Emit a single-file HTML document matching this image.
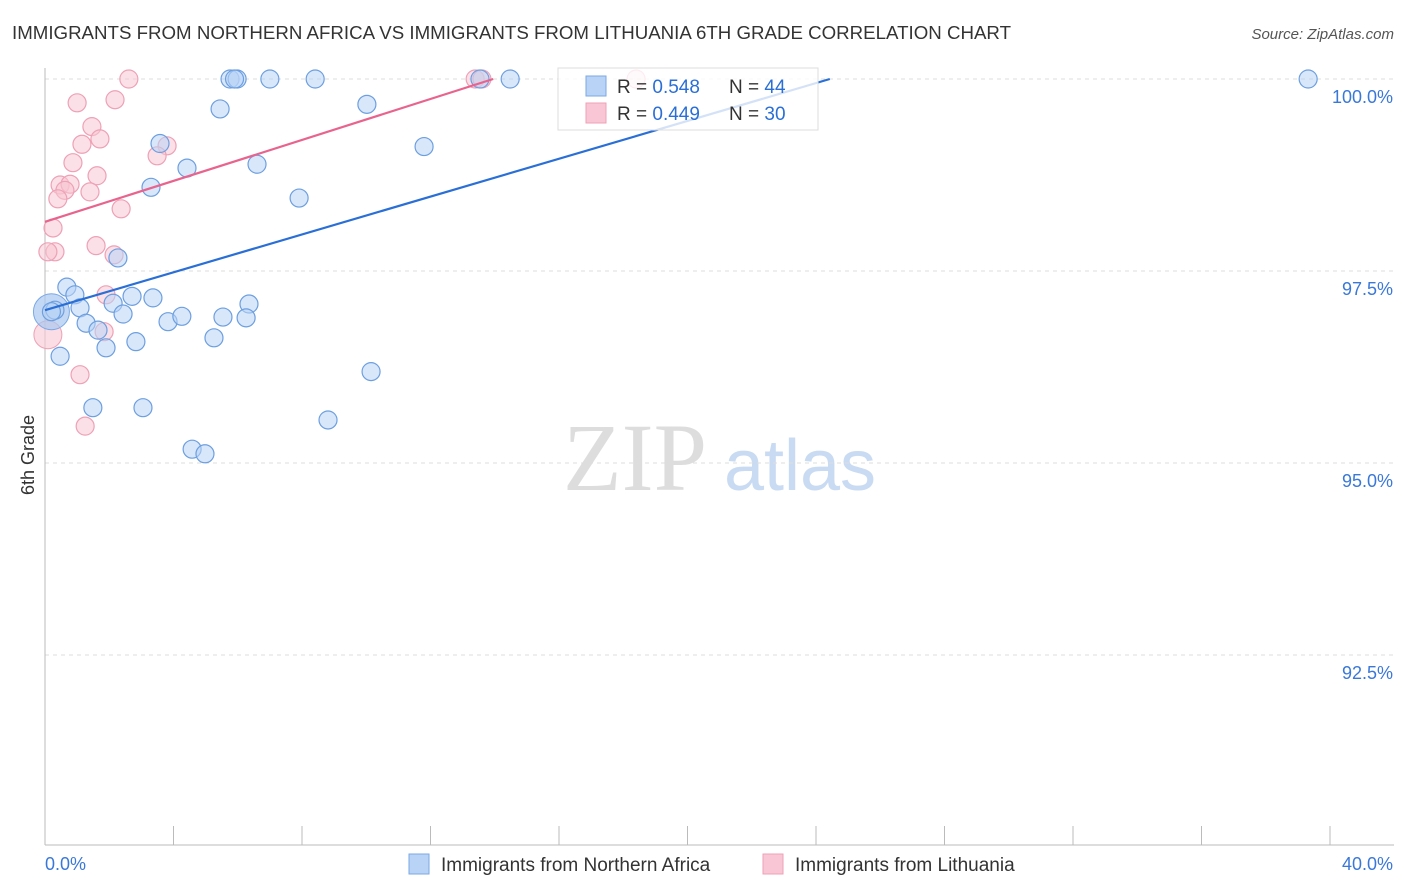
<!DOCTYPE html>
<html><head><meta charset="utf-8"><style>
body{margin:0;background:#fff;font-family:"Liberation Sans",sans-serif;}
svg{display:block}
</style></head><body>
<svg width="1406" height="892">
<text x="12" y="39" font-size="18" fill="#333" textLength="999" lengthAdjust="spacingAndGlyphs">IMMIGRANTS FROM NORTHERN AFRICA VS IMMIGRANTS FROM LITHUANIA 6TH GRADE CORRELATION CHART</text>
<text x="1394" y="39" font-size="15" fill="#555" font-style="italic" text-anchor="end">Source: ZipAtlas.com</text>
<g>
<text x="635" y="490" font-size="96" fill="#ddd" text-anchor="middle" font-family="Liberation Serif,serif">ZIP</text>
<text x="800" y="490" font-size="72" fill="#c9dbf2" text-anchor="middle">atlas</text>
</g>
<g id="grid"></g>
<g id="axes"></g>
<g id="marks"></g>
<g>
<rect x="558" y="68" width="260" height="62" fill="#fff" fill-opacity="0.8" stroke="#ddd"/>
<rect x="586" y="76" width="20" height="20" fill="#b8d3f5" stroke="#7aa9e6"/>
<text x="617" y="93" font-size="19" fill="#333">R = <tspan fill="#2a6fd6">0.548</tspan></text>
<text x="729" y="93" font-size="19" fill="#333">N = <tspan fill="#2a6fd6">44</tspan></text>
<rect x="586" y="103" width="20" height="20" fill="#f8c6d4" stroke="#eea1b6"/>
<text x="617" y="120" font-size="19" fill="#333">R = <tspan fill="#2a6fd6">0.449</tspan></text>
<text x="729" y="120" font-size="19" fill="#333">N = <tspan fill="#2a6fd6">30</tspan></text>
</g>
<g>
<rect x="409" y="854" width="20" height="20" fill="#b8d3f5" stroke="#7aa9e6"/>
<text x="441" y="871" font-size="19" fill="#333">Immigrants from Northern Africa</text>
<rect x="763" y="854" width="20" height="20" fill="#f8c6d4" stroke="#eea1b6"/>
<text x="795" y="871" font-size="19" fill="#333">Immigrants from Lithuania</text>
</g>
<text transform="translate(34,455) rotate(-90)" font-size="18" fill="#333" text-anchor="middle">6th Grade</text>
</svg>
<script>
const blueX=[5.76,5.98,7.00,8.41,13.54,14.48,39.32,5.45,10.02,11.80,3.58,4.42,6.60,3.30,7.91,2.27,0.68,0.93,0.31,1.09,2.12,2.71,3.36,6.35,1.28,1.65,2.43,3.83,4.26,5.54,6.26,2.83,1.90,5.26,0.47,10.15,1.49,3.05,8.81,4.58,4.98,5.90,0.2];
const blueY=[100,100,100,100,100,100,100,99.61,99.67,99.12,99.16,98.84,98.89,98.59,98.45,97.67,97.29,97.19,96.99,97.02,97.08,97.17,97.15,97.07,96.82,96.73,96.94,96.84,96.91,96.90,96.89,96.58,96.50,96.63,96.39,96.19,95.72,95.72,95.56,95.18,95.12,100,96.97];
const pinkX=[2.61,13.39,18.40,1.00,2.18,1.46,1.71,1.15,3.80,3.49,0.87,1.62,0.47,0.78,0.62,1.40,0.40,2.37,0.25,1.59,0.31,0.09,2.15,1.90,1.84,1.09,1.25,13.6];
const pinkY=[100,100,100,99.69,99.73,99.38,99.22,99.15,99.13,99.00,98.91,98.74,98.62,98.63,98.55,98.53,98.44,98.31,98.06,97.83,97.75,97.75,97.71,97.19,96.71,96.15,95.48,100];
const bigBlue=[0.2,96.97];const bigPink=[0.09,96.67];
const blueTrend=[[0,96.99],[24.43,100]];
const pinkTrend=[[0,98.14],[13.95,100]];
const yTicks=[100,97.5,95,92.5];
const yTickLabels=["100.0%","97.5%","95.0%","92.5%"];
const xTicks=[0,4,8,12,16,20,24,28,32,36,40];
const NS="http://www.w3.org/2000/svg";
const sx=v=>45+v/40*1285;
const sy=v=>79+(100-v)/2.5*192;
function mk(t,a,p){const e=document.createElementNS(NS,t);for(const k in a)e.setAttribute(k,a[k]);p.appendChild(e);return e;}
const grid=document.getElementById('grid'),axes=document.getElementById('axes'),marks=document.getElementById('marks');
yTicks.forEach((v,i)=>{
 const l=mk('line',{x1:45,x2:1394,y1:sy(v),y2:sy(v),stroke:'#ddd','stroke-dasharray':'4 4'},grid);
 
 
 const t=mk('text',{x:1393,y:sy(v)+24,'font-size':18,fill:'#3a78d8','text-anchor':'end'},axes);
 t.textContent=yTickLabels[i];
 
 
});
const ya=mk('line',{x1:45,x2:45,y1:68,y2:845,stroke:'#bbb'},axes);


const xa=mk('line',{x1:45,x2:1394,y1:845,y2:845,stroke:'#bbb'},axes);


xTicks.forEach(v=>{
 const l=mk('line',{x1:sx(v),x2:sx(v),y1:826,y2:845,stroke:'#bbb'},axes);
 
 
});
[["0.0%",45,"start"],["40.0%",1393,"end"]].forEach(d=>{
 const t=mk('text',{x:d[1],y:870,'font-size':18,fill:'#3a78d8','text-anchor':d[2]},axes);
 t.textContent=d[0];
 
 
});
function dots(X,Y,fill,stroke,name){X.forEach((x,i)=>{
 const c=mk('circle',{cx:sx(x),cy:sy(Y[i]),r:9,fill:fill,'fill-opacity':0.55,stroke:stroke,'stroke-width':1.2},marks);
 
 
});}
const bp=mk('circle',{cx:sx(bigPink[0]),cy:sy(bigPink[1]),r:14,fill:'#f8c6d4','fill-opacity':0.6,stroke:'#eea1b6'},marks);


const bb=mk('circle',{cx:sx(bigBlue[0]),cy:sy(bigBlue[1]),r:18,fill:'#a9c8f0','fill-opacity':0.7,stroke:'#7aa9e6'},marks);


dots(pinkX,pinkY,'#f8c6d4','#eea1b6','pink-point');
dots(blueX,blueY,'#b8d3f5','#6d9fe0','blue-point');
const pl=mk('line',{x1:sx(pinkTrend[0][0]),y1:sy(pinkTrend[0][1]),x2:sx(pinkTrend[1][0]),y2:sy(pinkTrend[1][1]),stroke:'#e8648e','stroke-width':2.2},marks);


const bl=mk('line',{x1:sx(blueTrend[0][0]),y1:sy(blueTrend[0][1]),x2:sx(blueTrend[1][0]),y2:sy(blueTrend[1][1]),stroke:'#2a6fd6','stroke-width':2.2},marks);


</script>
</body></html>
